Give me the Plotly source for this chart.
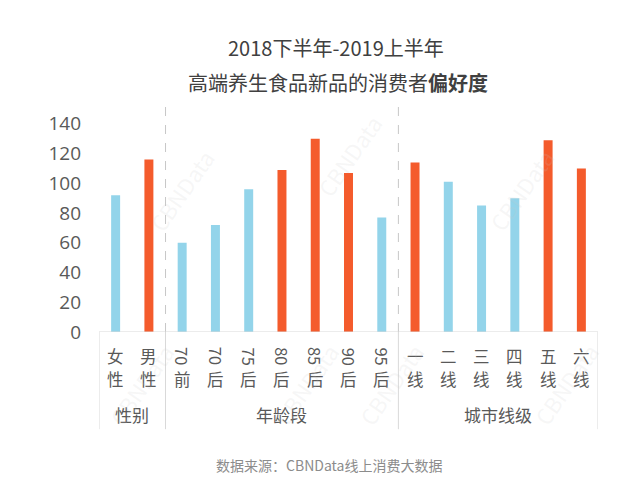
import plotly.graph_objects as go

# data
categories = ["女性", "男性", "70前", "70后", "75后", "80后", "85后", "90后", "95后",
              "一线", "二线", "三线", "四线", "五线", "六线"]
values = [92, 116, 60, 72, 96, 109, 130, 107, 77, 114, 101, 85, 90, 129, 110]
highlight = [False, True, False, False, False, True, True, True, False,
             True, False, False, False, True, True]
# tick label parts: (number / first char, second char)
label_top = ["女", "男", "70", "70", "75", "80", "85", "90", "95",
             "一", "二", "三", "四", "五", "六"]
label_bottom = ["性", "性", "前", "后", "后", "后", "后", "后", "后",
                "线", "线", "线", "线", "线", "线"]
groups = ["性别", "年龄段", "城市线级"]
group_spans = [(0, 1), (2, 8), (9, 14)]

BLUE = "#93d4ea"
ORANGE = "#f45b2c"
TXT = "#595959"
FONT = "Noto Sans CJK SC, Open Sans, sans-serif"

colors = [ORANGE if h else BLUE for h in highlight]

fig = go.Figure(go.Bar(x=categories, y=values, marker_color=colors,
                       marker_line_width=0, width=0.27))

anns = []
for i, c in enumerate(categories):
    top = label_top[i]
    # numbers are turned on their side, characters stay upright
    anns.append(dict(x=c, xref="x", y=-0.107, yref="paper", text=top,
                     showarrow=False, textangle=90 if top.isdigit() else 0,
                     xanchor="center", yanchor="middle",
                     font=dict(size=16.5, color=TXT, family=FONT)))
    anns.append(dict(x=c, xref="x", y=-0.21, yref="paper", text=label_bottom[i],
                     showarrow=False, xanchor="center", yanchor="middle",
                     font=dict(size=16.5, color=TXT, family=FONT)))

for g, (a, b) in zip(groups, group_spans):
    anns.append(dict(x=(a + b) / 2, xref="x", y=-0.367, yref="paper", text=g,
                     showarrow=False, xanchor="center", yanchor="middle",
                     font=dict(size=17, color=TXT, family=FONT)))

# titles
anns.append(dict(x=0.475, y=1.261, xref="paper", yref="paper",
                 text="2018下半年-2019上半年", showarrow=False,
                 xanchor="center", yanchor="middle",
                 font=dict(size=20, color="#404040", family=FONT)))
anns.append(dict(x=0.479, y=1.106, xref="paper", yref="paper",
                 text="高端养生食品新品的消费者<b>偏好度</b>", showarrow=False,
                 xanchor="center", yanchor="middle",
                 font=dict(size=20, color="#404040", family=FONT)))
anns.append(dict(x=0.46, y=-0.588, xref="paper", yref="paper",
                 text="数据来源：CBNData线上消费大数据", showarrow=False,
                 xanchor="center", yanchor="middle",
                 font=dict(size=14, color="#8c8c8c", family=FONT)))

# faint watermarks
for wx, wy in [(0.08, 0.85), (0.5, 1.0), (0.93, 0.85), (0.0, -0.45), (0.33, -0.45),
               (0.67, -0.45), (1.02, -0.45)]:
    anns.append(dict(x=wx, y=wy, xref="paper", yref="paper", text="CBNData",
                     showarrow=False, textangle=-55,
                     font=dict(size=22, color="rgba(200,200,200,0.16)", family=FONT)))

shapes = []
# dashed separators inside plot
for xs in [1.5, 8.5]:
    shapes.append(dict(type="line", xref="x", yref="paper", x0=xs, x1=xs, y0=0, y1=1,
                       line=dict(color="#c8c8c8", width=1, dash="dash")))
# solid lines of the category box
for xs in [-0.5, 1.5, 8.5, 14.5]:
    shapes.append(dict(type="line", xref="x", yref="paper", x0=xs, x1=xs, y0=0, y1=-0.43,
                       line=dict(color="#d9d9d9", width=1)))
shapes.append(dict(type="line", xref="x", yref="y", x0=-0.5, x1=14.5, y0=0, y1=0,
                   line=dict(color="#d9d9d9", width=1.2)))

# the page body adds 8px, so the figure is 8px smaller than the window
fig.update_layout(
    width=632, height=480,
    margin=dict(l=91, r=42, t=98, b=156),
    paper_bgcolor="white", plot_bgcolor="white",
    showlegend=False,
    font=dict(family=FONT, color=TXT),
    xaxis=dict(showticklabels=False, showline=False, showgrid=False, zeroline=False,
               range=[-0.5, 14.5]),
    yaxis=dict(range=[0, 152], tickvals=[0, 20, 40, 60, 80, 100, 120, 140],
               showgrid=False, zeroline=False, showline=False,
               tickfont=dict(size=19, color=TXT, family="Open Sans, sans-serif"),
               ticks="", ticklabelstandoff=17),
    annotations=anns, shapes=shapes,
)

fig.write_html("out.html")
